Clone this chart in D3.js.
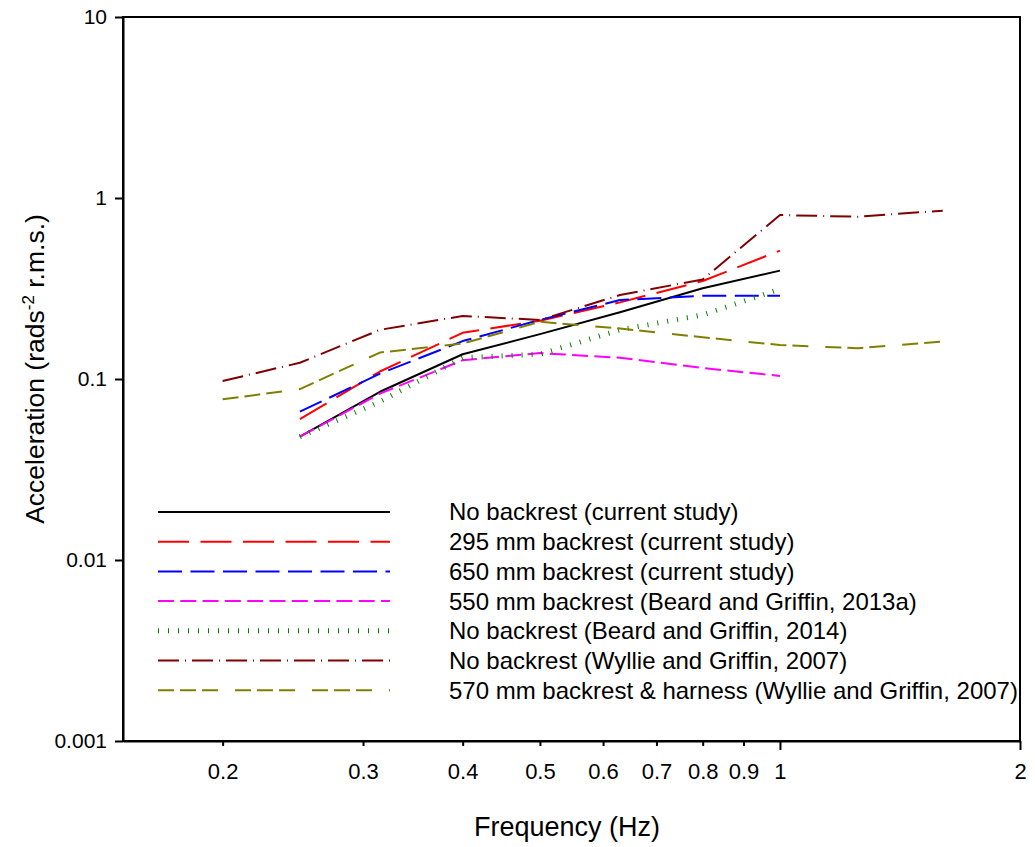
<!DOCTYPE html>
<html>
<head>
<meta charset="utf-8">
<script src="https://cdn.jsdelivr.net/npm/d3@7/dist/d3.min.js"></script>
<style>
  html, body { margin: 0; padding: 0; background: #fff; }
  svg { display: block; font-family: "Liberation Sans", Arial, sans-serif; }
</style>
</head>
<body>
<svg id="chart" width="1035" height="847"></svg>
<script>
// One-third-octave centre frequencies (Hz)
const freqsCurrent = [0.25, 0.315, 0.4, 0.5, 0.63, 0.8, 1.0];
const freqsWyllie = [0.2, 0.25, 0.315, 0.4, 0.5, 0.63, 0.8, 1.0, 1.25, 1.6];

// Roll acceleration (rad/s² r.m.s.)
const noBackrestCurrent = [0.048, 0.085, 0.137, 0.177, 0.234, 0.317, 0.397];
const backrest295 = [0.060, 0.110, 0.180, 0.210, 0.265, 0.348, 0.512];
const backrest650 = [0.066, 0.107, 0.162, 0.212, 0.273, 0.288, 0.288];
const backrest550Beard = [0.048, 0.083, 0.127, 0.139, 0.131, 0.115, 0.104];
const noBackrestBeard = [0.048, 0.075, 0.131, 0.137, 0.187, 0.226, 0.314];
const noBackrestWyllie = [0.0975, 0.123, 0.187, 0.223, 0.212, 0.291, 0.355, 0.805, 0.788, 0.851];
const harnessWyllie = [0.0772, 0.088, 0.140, 0.157, 0.207, 0.190, 0.170, 0.154, 0.148, 0.161];

const seriesNames = [
  "No backrest (current study)",
  "295 mm backrest (current study)",
  "650 mm backrest (current study)",
  "550 mm backrest (Beard and Griffin, 2013a)",
  "No backrest (Beard and Griffin, 2014)",
  "No backrest (Wyllie and Griffin, 2007)",
  "570 mm backrest & harness (Wyllie and Griffin, 2007)"
];

const xTickValues = [0.2, 0.3, 0.4, 0.5, 0.6, 0.7, 0.8, 0.9, 1, 2];
const yTickValues = [0.001, 0.01, 0.1, 1, 10];
const yTickLabels = ["0.001", "0.01", "0.1", "1", "10"];

const series = [
  { name: seriesNames[0], x: freqsCurrent, y: noBackrestCurrent, color: "#000000", dash: null, width: 2 },
  { name: seriesNames[1], x: freqsCurrent, y: backrest295, color: "#ff0000", dash: "31,11.5", width: 2 },
  { name: seriesNames[2], x: freqsCurrent, y: backrest650, color: "#0000ff", dash: "24,8.5", width: 2 },
  { name: seriesNames[3], x: freqsCurrent, y: backrest550Beard, color: "#ff00ff", dash: "16,6.3", width: 2 },
  { name: seriesNames[4], x: freqsCurrent, y: noBackrestBeard, color: "#008000", dash: "1,9", width: 5 },
  { name: seriesNames[5], x: freqsWyllie, y: noBackrestWyllie, color: "#800000", dash: "21,6,1,6", width: 2 },
  { name: seriesNames[6], x: freqsWyllie, y: harnessWyllie, color: "#808000", dash: "16,6,16,6,16,17", width: 2 }
];

const svg = d3.select("#chart");
const plot = { left: 123, right: 1020, top: 17, bottom: 741 };

const x = d3.scaleLog().domain([0.15, 2]).range([plot.left, plot.right]);
const y = d3.scaleLog().domain([0.001, 10]).range([plot.bottom, plot.top]);

// Frame
svg.append("rect")
  .attr("x", plot.left).attr("y", plot.top)
  .attr("width", plot.right - plot.left).attr("height", plot.bottom - plot.top)
  .attr("fill", "none").attr("stroke", "#000").attr("stroke-width", 2);

// X axis: long ticks at 1 and 2 Hz, short ticks between
const xAxis = d3.axisBottom(x)
  .tickValues(xTickValues)
  .tickFormat(d3.format("~g"))
  .tickSizeOuter(0)
  .tickSizeInner(5)
  .tickPadding(17);
const gx = svg.append("g").attr("transform", `translate(0,${plot.bottom})`).call(xAxis);
gx.select(".domain").attr("stroke-width", 2);
gx.selectAll(".tick line").attr("stroke-width", 2)
  .attr("y2", d => (d === 1 || d === 2) ? 9 : 5);
gx.selectAll(".tick text").attr("font-size", 22).attr("fill", "#000")
  .attr("font-family", "'Liberation Sans', Arial, sans-serif");

// Y axis: decades
const yAxis = d3.axisLeft(y)
  .tickValues(yTickValues)
  .tickFormat((d, i) => yTickLabels[i])
  .tickSizeOuter(0)
  .tickSizeInner(8)
  .tickPadding(8);
const gy = svg.append("g").attr("transform", `translate(${plot.left},0)`).call(yAxis);
gy.select(".domain").attr("stroke-width", 2);
gy.selectAll(".tick line").attr("stroke-width", 2);
gy.selectAll(".tick text").attr("font-size", 21).attr("fill", "#000")
  .attr("font-family", "'Liberation Sans', Arial, sans-serif");

// Axis titles
svg.append("text")
  .attr("x", 567).attr("y", 836)
  .attr("text-anchor", "middle").attr("font-size", 27)
  .text("Frequency (Hz)");

const yTitle = svg.append("text")
  .attr("transform", `translate(44,369) rotate(-90)`)
  .attr("text-anchor", "middle").attr("font-size", 26.5);
yTitle.append("tspan").text("Acceleration (rads");
yTitle.append("tspan").attr("dy", -10).attr("font-size", 17).text("-2");
yTitle.append("tspan").attr("dy", 10).text(" r.m.s.)");

// Data lines
const line = d3.line().x(d => x(d[0])).y(d => y(d[1]));
series.forEach(s => {
  const pts = s.x.map((f, i) => [f, s.y[i]]);
  svg.append("path")
    .datum(pts)
    .attr("d", line)
    .attr("fill", "none")
    .attr("stroke", s.color)
    .attr("stroke-width", s.width)
    .attr("stroke-dasharray", s.dash)
    .attr("stroke-linejoin", "round");
});

// Legend
const legend = { x1: 158, x2: 390, textX: 449, top: 512, step: 29.7 };
series.forEach((s, i) => {
  const ly = legend.top + i * legend.step;
  svg.append("line")
    .attr("x1", legend.x1).attr("x2", legend.x2)
    .attr("y1", ly).attr("y2", ly)
    .attr("stroke", s.color)
    .attr("stroke-width", s.width)
    .attr("stroke-dasharray", s.dash);
  svg.append("text")
    .attr("x", legend.textX).attr("y", ly)
    .attr("dy", "0.35em")
    .attr("font-size", 24)
    .text(s.name);
});
</script>
</body>
</html>
